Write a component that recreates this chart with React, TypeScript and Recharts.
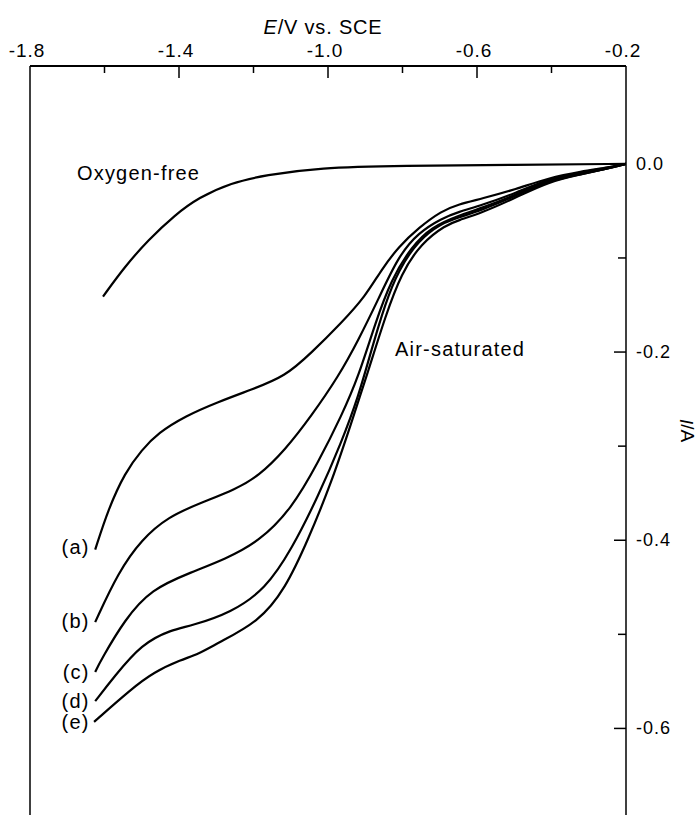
import React from 'react';
import { LineChart, Line, XAxis, YAxis, ReferenceLine, ReferenceDot } from 'recharts';

// E (V vs. SCE) and I (A)
const potO2Free = [-1.604, -1.545, -1.483, -1.41, -1.348, -1.26, -1.168, -1.026, -0.8, -0.5, -0.2];
const curO2Free = [-0.141, -0.109, -0.081, -0.054, -0.036, -0.02, -0.012, -0.004, -0.002, -0.001, 0];

const potA = [-1.625, -1.59, -1.545, -1.5, -1.456, -1.383, -1.295, -1.206, -1.115, -1.045, -0.964, -0.9, -0.856, -0.81, -0.757, -0.695, -0.65, -0.587, -0.496, -0.408, -0.319, -0.25, -0.2];
const curA = [-0.41, -0.367, -0.328, -0.304, -0.286, -0.268, -0.253, -0.24, -0.226, -0.201, -0.169, -0.141, -0.112, -0.088, -0.068, -0.05, -0.043, -0.037, -0.027, -0.015, -0.008, -0.004, 0];

const potB = [-1.625, -1.563, -1.5, -1.429, -1.34, -1.249, -1.187, -1.115, -1.045, -0.972, -0.918, -0.865, -0.811, -0.757, -0.695, -0.65, -0.587, -0.496, -0.408, -0.319, -0.25, -0.2];
const curB = [-0.487, -0.434, -0.399, -0.375, -0.36, -0.346, -0.332, -0.304, -0.268, -0.226, -0.187, -0.144, -0.098, -0.073, -0.058, -0.051, -0.044, -0.031, -0.016, -0.009, -0.004, 0];

const potC = [-1.625, -1.609, -1.545, -1.475, -1.367, -1.276, -1.187, -1.098, -1.026, -0.964, -0.918, -0.873, -0.83, -0.776, -0.722, -0.65, -0.587, -0.496, -0.408, -0.319, -0.25, -0.2];
const curC = [-0.54, -0.527, -0.484, -0.452, -0.434, -0.42, -0.402, -0.367, -0.317, -0.268, -0.226, -0.169, -0.123, -0.088, -0.067, -0.055, -0.047, -0.033, -0.017, -0.01, -0.005, 0];

const potD = [-1.625, -1.574, -1.5, -1.42, -1.367, -1.26, -1.168, -1.098, -1.026, -0.964, -0.918, -0.883, -0.846, -0.811, -0.757, -0.695, -0.65, -0.587, -0.496, -0.408, -0.319, -0.25, -0.2];
const curD = [-0.571, -0.545, -0.51, -0.495, -0.491, -0.477, -0.452, -0.41, -0.353, -0.296, -0.247, -0.197, -0.148, -0.113, -0.081, -0.063, -0.057, -0.049, -0.034, -0.018, -0.011, -0.005, 0];

const potE = [-1.628, -1.528, -1.467, -1.394, -1.348, -1.295, -1.187, -1.115, -1.053, -0.991, -0.937, -0.891, -0.846, -0.803, -0.749, -0.684, -0.65, -0.587, -0.496, -0.408, -0.319, -0.25, -0.2];
const curE = [-0.593, -0.558, -0.54, -0.527, -0.521, -0.509, -0.487, -0.452, -0.399, -0.339, -0.275, -0.219, -0.162, -0.116, -0.084, -0.065, -0.06, -0.052, -0.036, -0.019, -0.011, -0.005, 0];

const xTicks = [-1.8, -1.6, -1.4, -1.2, -1.0, -0.8, -0.6, -0.4, -0.2];
const xLabelTicks = [-1.8, -1.4, -1.0, -0.6, -0.2];
const yTicks = [0, -0.1, -0.2, -0.3, -0.4, -0.5, -0.6];
const yLabelTicks = [0, -0.2, -0.4, -0.6];

// curve tags: text, E, I at the label position
const tagNames = ['(a)', '(b)', '(c)', '(d)', '(e)'];
const tagPot = [-1.64, -1.64, -1.64, -1.64, -1.64];
const tagCur = [-0.407, -0.486, -0.54, -0.571, -0.593];

const FONT = '"Liberation Sans", Arial, Helvetica, sans-serif';

const toPoints = (e: number[], i: number[]) => e.map((v, k) => ({ e: v, i: i[k] }));

const series = [
  toPoints(potO2Free, curO2Free),
  toPoints(potA, curA),
  toPoints(potB, curB),
  toPoints(potC, curC),
  toPoints(potD, curD),
  toPoints(potE, curE),
];

const has = (list: number[], v: number) => list.some(t => Math.abs(t - v) < 1e-6);

const TopTick = (props: any) => {
  const { x, y, payload } = props;
  const v = payload.value;
  const isEnd = Math.abs(v + 1.8) < 1e-6 || Math.abs(v + 0.2) < 1e-6;
  const len = has(xLabelTicks, v) ? 12 : 7;
  return (
    <g>
      {!isEnd && <line x1={x} y1={y} x2={x} y2={y + len} stroke="#000" strokeWidth={1.5} />}
      {has(xLabelTicks, v) && (
        <text x={x - 3} y={y - 9} textAnchor="middle" fontSize={19} fontFamily={FONT} fill="#000" letterSpacing={1}>
          {v.toFixed(1)}
        </text>
      )}
    </g>
  );
};

const RightTick = (props: any) => {
  const { x, y, payload } = props;
  const v = payload.value;
  const major = has(yLabelTicks, v);
  return (
    <g>
      <line x1={x - (major ? 12 : 8)} y1={y} x2={x} y2={y} stroke="#000" strokeWidth={1.5} />
      {major && (
        <text x={x + 10} y={y + 6} textAnchor="start" fontSize={18} fontFamily={FONT} fill="#000" letterSpacing={1}>
          {v === 0 ? '0.0' : v.toFixed(1)}
        </text>
      )}
    </g>
  );
};

const XTitle = (props: any) => {
  const vb = props.viewBox ?? { x: 30, y: 36, width: 596, height: 30 };
  return (
    <text x={vb.x + vb.width / 2 - 5} y={vb.y - 2} textAnchor="middle" fontSize={20} fontFamily={FONT} fill="#000" letterSpacing={0.8}>
      <tspan fontStyle="italic">E</tspan>/V vs. SCE
    </text>
  );
};

const YTitle = (props: any) => {
  const vb = props.viewBox ?? { x: 626, y: 66, width: 70, height: 749 };
  const tx = vb.x + 61;
  const ty = vb.y + vb.height / 2 - 10;
  return (
    <text x={tx} y={ty} transform={`rotate(90 ${tx} ${ty})`} textAnchor="middle" dominantBaseline="central" fontSize={19} fontFamily={FONT} fill="#000">
      <tspan fontStyle="italic">I</tspan>/A
    </text>
  );
};

const textShape = (text: string, anchor: 'start' | 'end') => (p: any) => (
  <text x={p.cx} y={p.cy} dy={7} textAnchor={anchor} fontSize={20} fontFamily={FONT} fill="#000" letterSpacing={1.2}>
    {text}
  </text>
);

export default function App() {
  return (
    <div style={{ position: 'absolute', left: 0, top: 0, background: '#fff' }}>
      <LineChart width={697} height={815} margin={{ top: 36, right: 1, bottom: 0, left: 30 }}>
        <XAxis
          type="number"
          dataKey="e"
          orientation="top"
          domain={[-1.8, -0.2]}
          ticks={xTicks}
          interval={0}
          height={30}
          tickSize={0}
          tickMargin={0}
          tickLine={false}
          tick={<TopTick />}
          axisLine={{ stroke: '#000', strokeWidth: 2 }}
          allowDataOverflow
          label={XTitle}
        />
        <YAxis
          type="number"
          dataKey="i"
          orientation="right"
          domain={[-0.692, 0.104]}
          ticks={yTicks}
          interval={0}
          width={70}
          tickSize={0}
          tickMargin={0}
          tickLine={false}
          tick={<RightTick />}
          axisLine={{ stroke: '#000', strokeWidth: 1.5 }}
          allowDataOverflow
          label={YTitle}
        />
        <ReferenceLine x={-1.8} stroke="#000" strokeWidth={1.5} />
        {series.map((pts, k) => (
          <Line
            key={k}
            data={pts}
            dataKey="i"
            type="basis"
            stroke="#000"
            strokeWidth={2.2}
            dot={false}
            activeDot={false}
            isAnimationActive={false}
          />
        ))}
        <ReferenceDot x={-1.674} y={-0.0096} r={0} shape={textShape('Oxygen-free', 'start')} />
        <ReferenceDot x={-0.82} y={-0.197} r={0} shape={textShape('Air-saturated', 'start')} />
        {tagNames.map((t, k) => (
          <ReferenceDot key={t} x={tagPot[k]} y={tagCur[k]} r={0} shape={textShape(t, 'end')} />
        ))}
      </LineChart>
    </div>
  );
}
